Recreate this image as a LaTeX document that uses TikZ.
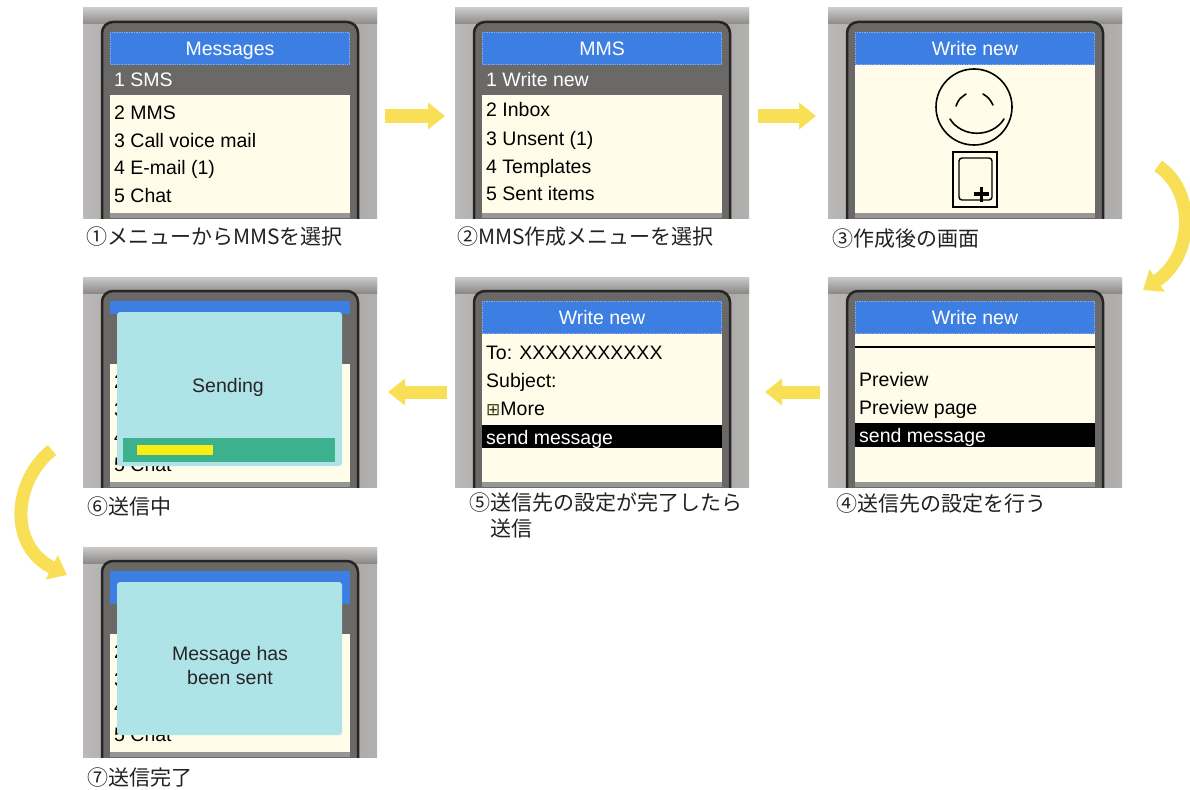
\documentclass[tikz,border=0pt]{standalone}
\usepackage{fontspec}
\setmainfont{Liberation Sans}
\newfontfamily\jpfont{Noto Sans CJK JP}
\newfontfamily\symfont{DejaVu Sans}
\usetikzlibrary{arrows.meta,calc}

\definecolor{bezelmid}{HTML}{8C8A88}
\definecolor{bezelside}{HTML}{BBB9B7}
\definecolor{bezelright}{HTML}{B3B1AF}
\definecolor{bezeltop}{HTML}{CCCAC8}
\definecolor{screengray}{HTML}{6B6967}
\definecolor{framedark}{HTML}{252525}
\definecolor{hdrblue}{HTML}{3C7EE2}
\definecolor{hdrdots}{HTML}{86ABE6}
\definecolor{cream}{HTML}{FFFDE9}
\definecolor{popcyan}{HTML}{AEE4E8}
\definecolor{bargreen}{HTML}{3DB08E}
\definecolor{baryellow}{HTML}{F8EE14}
\definecolor{flowyellow}{HTML}{F9DF55}
\definecolor{captext}{HTML}{222222}
\definecolor{boxplus}{HTML}{3A3A10}

\tikzset{
  panel/.style={minimum width=294pt,minimum height=210pt,inner sep=0pt,outer sep=0pt,draw=none},
  menutext/.style={anchor=base west,inner sep=0pt,font=\fontsize{19.5}{22}\selectfont,text=black},
  hitext/.style={menutext,text=white},
  hdrtext/.style={anchor=base,inner sep=0pt,font=\fontsize{19.5}{22}\selectfont,text=white},
  poptext/.style={anchor=base,inner sep=0pt,font=\fontsize{19.5}{22}\selectfont,text=black!85},
  caption/.style={anchor=west,inner sep=0pt,font=\jpfont\fontsize{21}{26}\selectfont,text=captext,align=left},
  flow/.style={draw=flowyellow,line width=13pt,-{Triangle[width=26pt,length=17pt]}},
  facestroke/.style={draw=black,line width=1.6pt,line cap=round},
}

% gray bezel with the dark rounded screen frame; #1 names the panel
\newcommand\bezelframe[1]{%
  \fill[left color=bezelside,right color=bezelright,middle color=bezelmid] (0,0) rectangle (294,210);
  \fill[top color=bezeltop,bottom color=bezelmid] (0,0) rectangle (294,16);
  \begin{scope}
    \clip (0,0) rectangle (294,210);
    \filldraw[fill=screengray,draw=framedark,line width=2.5pt,rounded corners=11pt] (19,14) rectangle (275,240);
  \end{scope}
  \fill[bezelmid!90!white] (27,205) rectangle (267,210);
  \node[panel] (#1) at (147,105) {};
}

% blue title bar of a screen
\newcommand\hdrbar[2]{%
  \fill[hdrblue] (27,24) rectangle (267,57);
  \draw[hdrdots,densely dotted,line width=0.7pt] (27.4,24.4) rectangle (266.6,56.6);
  \node[hdrtext] (#1) at (147,47.5) {#2};
}

% list area of the "Messages" menu left behind a pop-up; #1 prefixes names,
% #2 is the lower edge of the blue bar
\newcommand\menubehind[2]{%
  \fill[hdrblue] (27,24) rectangle (267,#2);
  \fill[cream] (27,87) rectangle (267,205);
  \node[menutext] (#1r2) at (31,111) {2};
  \node[menutext] (#1r3) at (31,139) {3};
  \node[menutext] (#1r4) at (31,166) {4};
  \node[menutext] (#1r5) at (31,194) {5 Chat};
}

\begin{document}
\begin{tikzpicture}[x=1pt,y=-1pt]
\useasboundingbox (0,0) rectangle (1190,789);
\fill[white] (0,0) rectangle (1190,789);

% 1: messages menu
\begin{scope}[shift={(83,8)}]
  \bezelframe{b1}
  \hdrbar{mah}{Messages}
  \node[hitext] (ma1) at (31,79) {1 SMS};
  \fill[cream] (27,87) rectangle (267,205);
  \node[menutext] (ma2) at (31,111) {2 MMS};
  \node[menutext] (ma3) at (31,139) {3 Call voice mail};
  \node[menutext] (ma4) at (31,166) {4 E-mail (1)};
  \node[menutext] (ma5) at (31,194) {5 Chat};
\end{scope}

% 2: MMS menu
\begin{scope}[shift={(455,8)}]
  \bezelframe{b2}
  \hdrbar{mbh}{MMS}
  \node[hitext] (mb1) at (31,79) {1 Write new};
  \fill[cream] (27,87) rectangle (267,205);
  \node[menutext] (mb2) at (31,109) {2 Inbox};
  \node[menutext] (mb3) at (31,137) {3 Unsent (1)};
  \node[menutext] (mb4) at (31,165) {4 Templates};
  \node[menutext] (mb5) at (31,192) {5 Sent items};
\end{scope}

% 3: new message with smiley picture
\begin{scope}[shift={(828,8)}]
  \bezelframe{b3}
  \hdrbar{mch}{Write new}
  \fill[cream] (27,57) rectangle (267,205);
  \draw[facestroke] (146,99) circle (38);
  \draw[facestroke] (128,98) .. controls (131,91) .. (138,86);
  \draw[facestroke] (155,86) .. controls (161,90) .. (165,97);
  \draw[facestroke] (122,111) .. controls (134,130) and (164,130) .. (176,111);
  \draw[black,line width=1.2pt] (125,144) rectangle (169,199);
  \draw[black,line width=1.4pt,rounded corners=3pt] (131,150) rectangle (164,192);
  \draw[black,line width=3.4pt] (146,186) -- (161,186) (153.5,178.5) -- (153.5,193.5);
\end{scope}

% 4: send options
\begin{scope}[shift={(828,277)}]
  \bezelframe{b4}
  \hdrbar{mdh}{Write new}
  \fill[cream] (27,57) rectangle (267,205);
  \draw[black,line width=1.5pt] (27,70) -- (267,70);
  \node[menutext] (md1) at (31,109) {Preview};
  \node[menutext] (md2) at (31,137) {Preview page};
  \fill[black] (27,146) rectangle (267,170);
  \node[hitext] (md3) at (31,165) {send message};
\end{scope}

% 5: addressed message
\begin{scope}[shift={(455,277)}]
  \bezelframe{b5}
  \hdrbar{meh}{Write new}
  \fill[cream] (27,57) rectangle (267,205);
  \node[menutext] (me1) at (31,82) {To: XXXXXXXXXXX};
  \node[menutext] (me2) at (31,110) {Subject:};
  \node[menutext] (me3) at (31,138) {{\symfont\fontsize{17}{17}\selectfont\color{boxplus}⊞}More};
  \fill[black] (27,148) rectangle (267,171);
  \node[hitext] (me4) at (31,167) {send message};
\end{scope}

% 6: sending pop-up
\begin{scope}[shift={(83,277)}]
  \bezelframe{b6}
  \menubehind{mf}{37}
  \fill[popcyan,rounded corners=3pt] (34,35) rectangle (259,189);
  \node[poptext] (mf6) at (145,115) {Sending};
  \fill[bargreen] (40,161) rectangle (252,185);
  \fill[baryellow] (54,168) rectangle (130,178);
\end{scope}

% 7: sent pop-up
\begin{scope}[shift={(83,547)}]
  \bezelframe{b7}
  \menubehind{mg}{57}
  \fill[popcyan,rounded corners=3pt] (34,35) rectangle (259,188);
  \node[poptext] (mg6) at (147,113) {Message has};
  \node[poptext] (mg7) at (147,137) {been sent};
\end{scope}

% captions
\node[caption] (cap1) at (86,237) {①メニューからMMSを選択};
\node[caption] (cap2) at (457,237) {②MMS作成メニューを選択};
\node[caption] (cap3) at (832,239) {③作成後の画面};
\node[caption] (cap4) at (836,504) {④送信先の設定を行う};
\node[caption,anchor=north west] (cap5) at (469,493) {⑤送信先の設定が完了したら\\\phantom{⑤}送信};
\node[caption] (cap6) at (87,507) {⑥送信中};
\node[caption] (cap7) at (87,778) {⑦送信完了};

% flow arrows
\draw[flow] ([xshift=8pt,yshift=-3pt]b1.east) -- ([xshift=-10pt,yshift=-3pt]b2.west);
\draw[flow] ([xshift=9pt,yshift=-3pt]b2.east) -- ([xshift=-12pt,yshift=-3pt]b3.west);
\coordinate (turnRa) at ([xshift=36pt,yshift=52pt]b3.south east);
\coordinate (turnRb) at ([xshift=21pt,yshift=-13pt]b4.north east);
\draw[flow] (turnRa) .. controls ($(turnRa)+(37,24)$) and ($(turnRb)+(52,-35)$) .. (turnRb);
\draw[flow] ([xshift=-8pt,yshift=-10pt]b4.west) -- ([xshift=16pt,yshift=-10pt]b5.east);
\draw[flow] ([xshift=-8pt,yshift=-10pt]b5.west) -- ([xshift=11pt,yshift=-10pt]b6.east);
\coordinate (turnLa) at ([xshift=-31pt,yshift=37pt]b6.south west);
\coordinate (turnLb) at ([xshift=-16pt,yshift=-28pt]b7.north west);
\draw[flow] (turnLa) .. controls ($(turnLa)+(-38,30)$) and ($(turnLb)+(-60,-30)$) .. (turnLb);
\end{tikzpicture}
\end{document}
